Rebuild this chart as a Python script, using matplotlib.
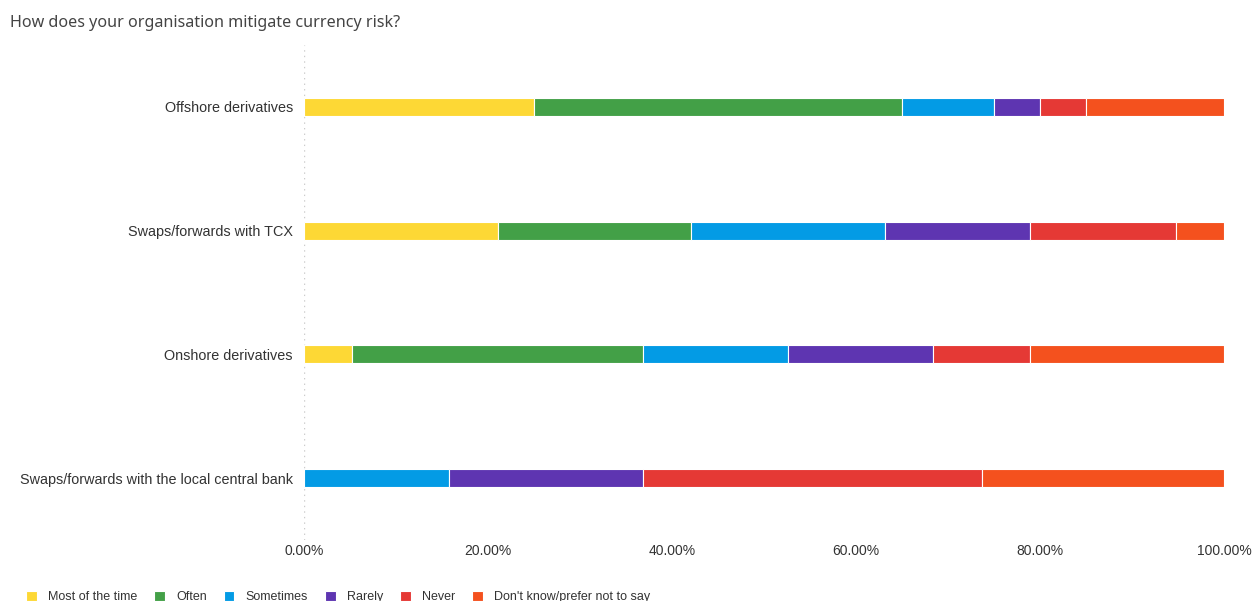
import numpy as np
import matplotlib.pyplot as plt

plt.rcParams["font.family"] = ["Liberation Sans", "DejaVu Sans"]

questions = [
    "Offshore derivatives",
    "Swaps/forwards with TCX",
    "Onshore derivatives",
    "Swaps/forwards with the local central bank",
]
answers = ["Most of the time", "Often", "Sometimes", "Rarely", "Never",
           "Don't know/prefer not to say"]
colors = ["#FDD835", "#43A047", "#039BE5", "#5E35B1", "#E53935", "#F4511E"]

# share of respondents (%) per answer, one list per question
offshore = [25.0, 40.0, 10.0, 5.0, 5.0, 15.0]
tcx = [21.05, 21.05, 21.05, 15.79, 15.79, 5.26]
onshore = [5.26, 31.58, 15.79, 15.79, 10.53, 21.05]
central_bank = [0.0, 0.0, 15.79, 21.05, 36.84, 26.32]

shares = np.array([offshore, tcx, onshore, central_bank])

fig = plt.figure(figsize=(12.54, 6.01), dpi=100)
ax = fig.add_axes([0.2424, 0.1015, 0.7337, 0.8235])

y = np.arange(len(questions))
left = np.zeros(len(questions))
for i, ans in enumerate(answers):
    ax.barh(y, shares[:, i], left=left, height=0.145, color=colors[i],
            edgecolor="white", linewidth=0.8, label=ans)
    left += shares[:, i]

ax.set_ylim(len(questions) - 0.5, -0.5)
ax.set_xlim(0, 100)
ax.set_yticks(y)
ax.set_yticklabels(questions, fontsize=10.4, color="#333333")
ax.set_xticks(np.arange(0, 101, 20))
ax.set_xticklabels([f"{v:.2f}%" for v in range(0, 101, 20)], fontsize=10,
                   color="#333333")
ax.tick_params(axis="y", length=0, pad=8)
ax.tick_params(axis="x", length=0, pad=3)
for s in ax.spines.values():
    s.set_visible(False)
ax.axvline(0, color="#cccccc", linestyle=(0, (1, 3)), linewidth=1, zorder=0)

fig.text(0.008, 0.962, "How does your organisation mitigate currency risk?",
         fontsize=11.6, color="#444444", ha="left", va="center",
         family=["Noto Sans", "DejaVu Sans"])

leg = fig.legend(loc="lower left", bbox_to_anchor=(0.012, -0.022), ncol=6,
                 frameon=False, fontsize=9, handlelength=0.85,
                 handleheight=0.85, handletextpad=0.9, columnspacing=1.35,
                 labelcolor="#333333")

fig.savefig("out.png", dpi=100)
